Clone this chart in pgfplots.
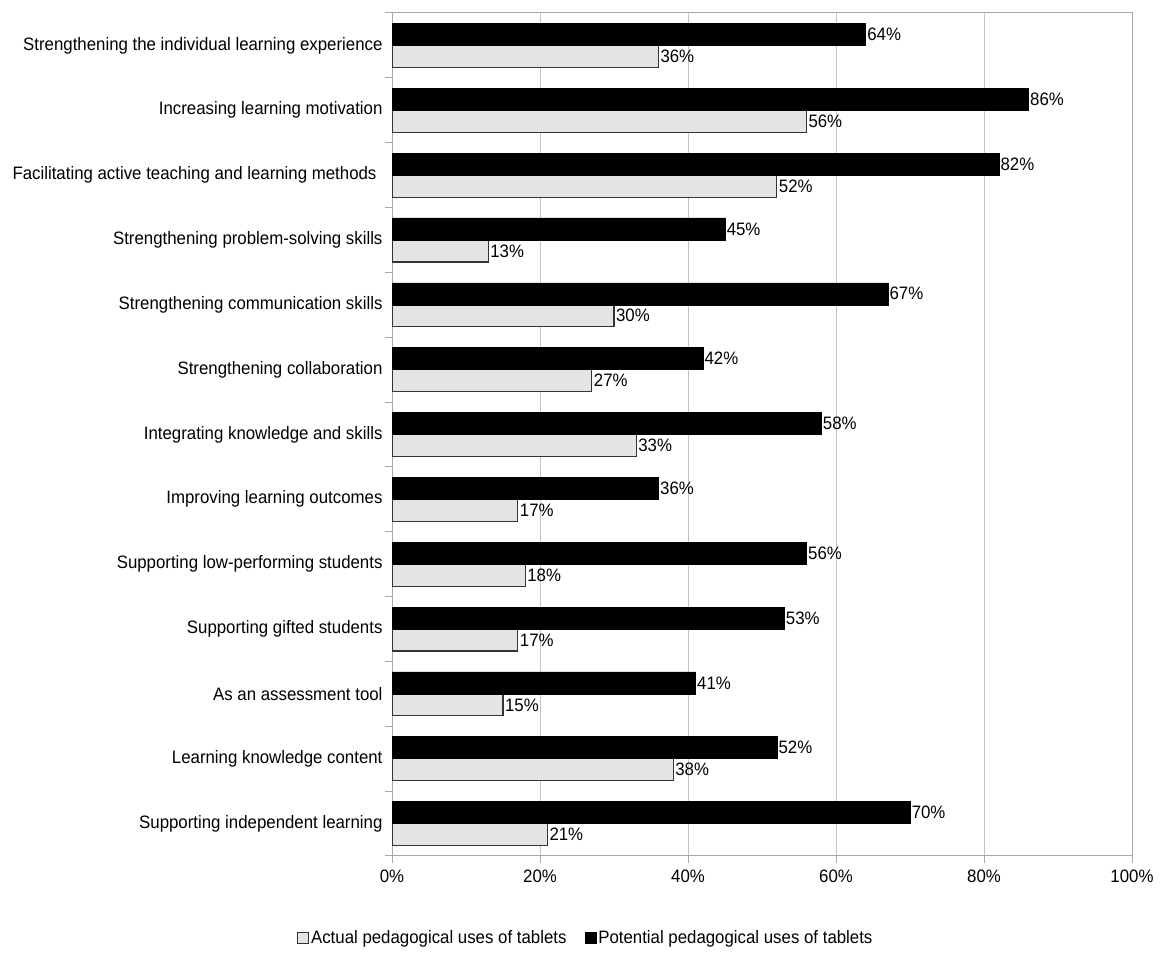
\documentclass[border=0pt]{standalone}
\usepackage{fontspec}
\setmainfont{Liberation Sans}[FakeStretch=0.935]
\usepackage{pgfplots}
\pgfplotsset{compat=1.18}

\definecolor{gridgray}{HTML}{C4C4C4}
\definecolor{axisgray}{HTML}{A8A8A8}
\definecolor{barlight}{HTML}{E4E4E4}
\definecolor{baredge}{HTML}{333333}

\begin{document}
\begin{tikzpicture}[font=\fontsize{18bp}{21bp}\selectfont]
\path[use as bounding box] (0,0) rectangle (1160bp,957bp);
\begin{axis}[
    at={(392bp,101bp)}, anchor=south west,
    scale only axis,
    width=740bp, height=843bp,
    xbar, bar width=22bp,
    xmin=0, xmax=100,
    ymin=-0.5, ymax=12.5,
    xtick={0,20,...,100},
    xticklabel={\pgfmathprintnumber{\tick}\%},
    /pgf/number format/assume math mode=true,
    ytick={-0.5,0.5,...,12.5},
    yticklabels={},
    extra y ticks={0,...,12},
    extra y tick labels={
        Supporting independent learning,
        Learning knowledge content,
        As an assessment tool,
        Supporting gifted students,
        Supporting low-performing students,
        Improving learning outcomes,
        Integrating knowledge and skills,
        Strengthening collaboration,
        Strengthening communication skills,
        Strengthening problem-solving skills,
        Facilitating active teaching and learning methods\hspace*{6bp},
        Increasing learning motivation,
        Strengthening the individual learning experience},
    extra y tick style={major tick length=0pt, grid=none},
    yticklabel style={xshift=-6bp},
    xticklabel style={yshift=-3bp},
    tick align=outside, tick pos=left,
    major tick length=7bp,
    tick style={axisgray, line width=1bp},
    axis line style={axisgray, line width=1bp},
    xmajorgrids,
    grid style={gridgray, line width=1bp},
    nodes near coords={\pgfmathprintnumber{\pgfplotspointmeta}\%},
    nodes near coords align={horizontal},
    every node near coord/.append style={anchor=west, inner sep=1.5bp, black},
    legend columns=2,
    legend style={at={(0.262,-0.097)}, anchor=center, draw=none, fill=none,
        /tikz/every even column/.append style={column sep=16bp},
        inner sep=0pt, nodes={inner sep=2bp}},
    legend image code/.code={\draw[#1, line width=0.8bp] (0bp,-5.5bp) rectangle (11bp,5.5bp);},
]
\addplot[bar shift=-11bp, fill=barlight, draw=baredge, line width=1.2bp] coordinates {
    (21,0) (38,1) (15,2) (17,3) (18,4) (17,5) (33,6)
    (27,7) (30,8) (13,9) (52,10) (56,11) (36,12)
};
\addlegendentry{Actual pedagogical uses of tablets}
\addplot[bar shift=11bp, fill=black, draw=black, line width=0.5bp] coordinates {
    (70,0) (52,1) (41,2) (53,3) (56,4) (36,5) (58,6)
    (42,7) (67,8) (45,9) (82,10) (86,11) (64,12)
};
\addlegendentry{Potential pedagogical uses of tablets}
\end{axis}
\end{tikzpicture}
\end{document}
